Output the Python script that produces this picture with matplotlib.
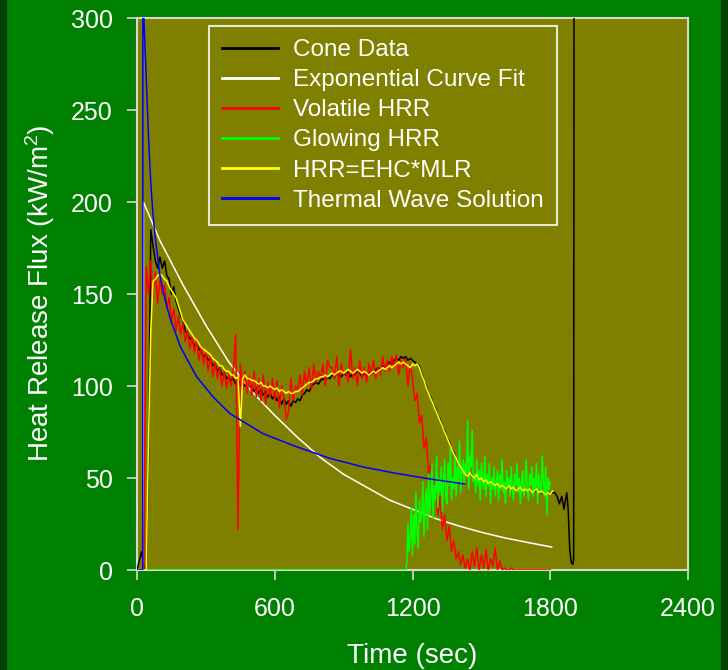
import numpy as np
import matplotlib
matplotlib.use("Agg")
import matplotlib.pyplot as plt
from matplotlib.patches import Rectangle

plt.rcParams['font.family'] = ['Liberation Sans', 'DejaVu Sans']
plt.rcParams['mathtext.fontset'] = 'custom'
plt.rcParams['mathtext.rm'] = 'Liberation Sans'
plt.rcParams['mathtext.it'] = 'Liberation Sans'

# ---------------- data ----------------
x_ticks = [0, 600, 1200, 1800, 2400]
y_ticks = [0, 50, 100, 150, 200, 250, 300]

labels = ["Cone Data", "Exponential Curve Fit", "Volatile HRR",
          "Glowing HRR", "HRR=EHC*MLR", "Thermal Wave Solution"]

# Cone data: 0..1810 s every 10 s, then tail
cone_t = list(range(0, 1811, 10)) + [1820, 1830, 1840, 1850, 1860, 1866, 1872,
                                     1878, 1885, 1892, 1898, 1902, 1904]
cone_v = [0, 5, 10, 2, 0, 60, 185, 176, 168, 164,
          170, 164, 168, 160, 158, 150, 154, 146, 142, 138,
          136, 130, 128, 126, 125, 122, 123, 120, 119, 116,
          117, 114, 115, 111, 112, 108, 110, 106, 107, 104,
          105, 103, 104, 101, 104, 100, 103, 100, 101, 99,
          100, 97, 99, 96, 98, 95, 97, 94, 96, 93,
          95, 92, 94, 90, 93, 90, 92, 89, 92, 91,
          93, 92, 95, 96, 98, 97, 100, 101, 102, 101,
          103, 104, 103, 105, 104, 106, 105, 107, 106, 105,
          107, 106, 108, 105, 107, 106, 108, 107, 105, 107,
          106, 107, 108, 107, 109, 110, 109, 111, 110, 112,
          113, 112, 114, 115, 114, 116, 115, 116, 114, 115,
          114, 113, 112, 111, 107, 103, 100, 96, 94, 90,
          88, 84, 82, 78, 76, 72, 70, 66, 64, 61,
          59, 56, 55, 52, 52, 53, 52, 50, 52, 49,
          50, 49, 49, 47, 48, 46, 47, 46, 45, 46,
          45, 44, 45, 44, 44, 43, 44, 44, 43, 44,
          43, 43, 42, 43, 43, 42, 42, 42, 41, 42,
          41, 42,
          42, 40, 36, 40, 33, 38, 42, 33, 11, 4, 3, 6, 400]

# Exponential curve fit
expfit_t = [27, 28, 100, 200, 300, 400, 500, 600, 700, 800, 900, 1000,
            1100, 1200, 1300, 1400, 1500, 1600, 1700, 1806]
expfit_v = [0, 200, 179, 155, 133, 113, 97, 84, 72, 61, 52, 45,
            38, 33, 28, 24, 20.5, 17.5, 15, 12.5]

# Volatile HRR: 0..1800 s every 10 s
vol_t = list(range(0, 1801, 10))
vol_v = [0, 0, 0, 0, 165, 150, 168, 148, 162, 145,
         158, 150, 155, 142, 148, 135, 142, 130, 138, 128,
         134, 124, 130, 120, 127, 118, 125, 114, 122, 112,
         118, 108, 117, 105, 113, 104, 110, 100, 108, 99,
         106, 100, 110, 128, 22, 112, 98, 108, 96, 106,
         95, 108, 94, 104, 92, 106, 90, 102, 94, 104,
         92, 103, 88, 100, 94, 82, 86, 104, 92, 100,
         98, 106, 95, 108, 100, 110, 98, 112, 102, 108,
         104, 112, 100, 114, 110, 110, 104, 116, 100, 112,
         106, 108, 102, 120, 104, 110, 100, 114, 104, 110,
         102, 112, 106, 114, 104, 110, 106, 116, 108, 114,
         108, 116, 110, 117, 106, 114, 110, 115, 100, 112,
         104, 92, 96, 80, 84, 66, 72, 52, 58, 40,
         48, 30, 40, 22, 30, 16, 24, 10, 16, 6,
         10, 3, 8, 1, 6, 0, 10, 2, 12, 0,
         8, 1, 11, 0, 6, 2, 12, 0, 5, 0,
         1, 0, 0, 1, 0, 0, 0, 0, 0, 0,
         0, 0, 0, 0, 0, 0, 0, 0, 0, 0,
         0]

# Glowing HRR: zero until ~1170 s, then every 5 s
glow_t = [0, 1170] + list(range(1175, 1801, 5))
glow_v = [0, 0,
          3, 25, 10, 18, 34, 8, 30, 14, 42, 20,
          12, 38, 26, 30, 48, 18, 36, 44, 22, 52,
          30, 40, 58, 28, 46, 38, 62, 34, 50, 42,
          56, 32, 48, 60, 40, 36, 58, 46, 66, 38,
          50, 44, 62, 40, 56, 48, 70, 42, 54, 60,
          46, 58, 52, 81, 44, 62, 56, 76, 48, 52,
          42, 60, 46, 54, 38, 58, 50, 44, 62, 40,
          52, 46, 58, 36, 50, 44, 56, 40, 48, 54,
          38, 52, 44, 60, 42, 48, 36, 54, 46, 50,
          40, 56, 44, 38, 52, 46, 58, 42, 50, 36,
          48, 54, 40, 46, 60, 44, 38, 52, 46, 56,
          40, 50, 44, 58, 36, 52, 46, 42, 62, 48,
          40, 56, 30, 50, 44, 48]

# HRR = EHC*MLR: 0..1810 s every 10 s
mlr_t = list(range(0, 1811, 10))
mlr_v = [0, 0, 0, 0, 0, 70, 130, 157, 158, 160,
         161, 160, 158, 157, 154, 152, 150, 148, 144, 140,
         136, 134, 132, 130, 128, 126, 125, 123, 121, 120,
         119, 118, 117, 115, 114, 113, 111, 111, 109, 108,
         108, 106, 106, 104, 105, 78, 104, 106, 104, 104,
         103, 103, 102, 101, 102, 100, 100, 99, 100, 99,
         98, 99, 97, 98, 97, 96, 97, 96, 96, 97,
         97, 98, 99, 100, 101, 102, 102, 103, 104, 104,
         105, 105, 106, 105, 106, 107, 106, 107, 108, 108,
         107, 108, 109, 108, 107, 108, 109, 108, 107, 108,
         107, 106, 107, 108, 107, 108, 109, 110, 109, 110,
         111, 110, 111, 112, 113, 112, 113, 112, 111, 110,
         112, 111, 112, 110, 106, 103, 99, 96, 93, 90,
         87, 84, 81, 78, 75, 72, 69, 66, 63, 61,
         58, 56, 54, 52, 51, 53, 51, 50, 52, 49,
         50, 48, 49, 47, 48, 47, 46, 47, 45, 46,
         45, 44, 46, 44, 45, 43, 44, 45, 43, 44,
         43, 44, 42, 43, 44, 42, 43, 42, 41, 42,
         41, 43]

# Thermal wave solution
wave_t = [0, 25, 26, 30, 40, 50, 60, 70, 80, 100, 122, 144, 187, 216, 260,
          332, 405, 550, 695, 840, 985, 1130, 1275, 1428]
wave_v = [0, 0, 420, 300, 268, 236, 210, 193, 180, 160, 147, 137, 122, 115, 105,
          94, 85, 74, 67, 60.7, 56, 52.5, 49.5, 46.7]

# ---------------- figure ----------------
W, H = 728, 670
fig = plt.figure(figsize=(W / 100, H / 100), dpi=100, facecolor='#008000')
fig.patches.append(Rectangle((0, 0), 6 / W, 1, transform=fig.transFigure,
                             color='#004000', zorder=0))
fig.patches.append(Rectangle((721 / W, 0), 7 / W, 1, transform=fig.transFigure,
                             color='#004000', zorder=0))

ax = fig.add_axes([137 / W, 100 / H, 551 / W, 552 / H])
ax.set_facecolor('#808000')

lw = 1.1
l1, = ax.plot(cone_t, cone_v, color='#000000', lw=lw, zorder=3)
l2, = ax.plot(expfit_t, expfit_v, color='#ffffff', lw=lw, zorder=4)
l3, = ax.plot(vol_t, vol_v, color='#ff0000', lw=lw, zorder=5)
l4, = ax.plot(glow_t, glow_v, color='#00ff00', lw=lw, zorder=6)
l5, = ax.plot(mlr_t, mlr_v, color='#ffff00', lw=lw, zorder=7)
l6, = ax.plot(wave_t, wave_v, color='#0000ff', lw=lw, zorder=8)

ax.set_xlim(0, 2400)
ax.set_ylim(0, 300)
ax.set_xticks(x_ticks)
ax.set_yticks(y_ticks)

spine_c = '#d8d8d0'
for s in ax.spines.values():
    s.set_color(spine_c)
    s.set_linewidth(1.5)
    s.set_zorder(2.5)

ax.tick_params(axis='both', colors=spine_c, length=7.5, width=1.2,
               labelcolor='white', labelsize=18, direction='out')
ax.tick_params(axis='x', pad=12)
ax.tick_params(axis='y', pad=10)

ax.set_xlabel("Time (sec)", color='white', fontsize=20)
ax.xaxis.set_label_coords(0.5, -0.132)
ax.set_ylabel("Heat Release Flux (kW/m$^2$)", color='white', fontsize=20)
ax.yaxis.set_label_coords(-0.146, 0.502)

leg = ax.legend([l1, l2, l3, l4, l5, l6], labels,
                loc='upper left', bbox_to_anchor=(72 / 551, 544 / 552),
                borderaxespad=0, fontsize=17.5, frameon=True, fancybox=False,
                facecolor='#808000', edgecolor='#e8e8d8', framealpha=1,
                handlelength=2.3, handletextpad=0.62, borderpad=0.55,
                labelspacing=0.33)
leg.get_frame().set_linewidth(1.5)
for t in leg.get_texts():
    t.set_color('white')
for ln in leg.get_lines():
    ln.set_linewidth(2)
leg.set_zorder(10)

fig.savefig("out.png", dpi=100, facecolor=fig.get_facecolor())
